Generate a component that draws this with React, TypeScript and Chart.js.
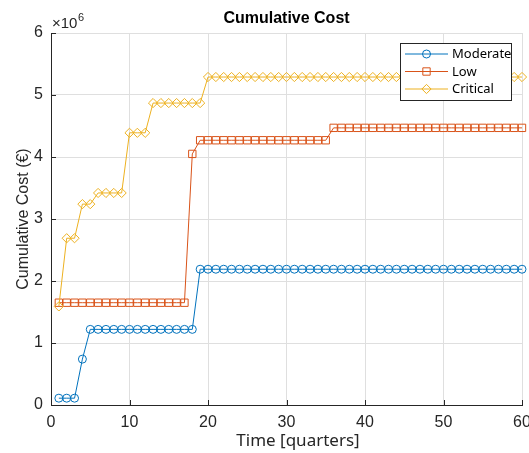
import React, { useEffect, useRef } from "react";
import { Chart, registerables } from "chart.js";

Chart.register(...registerables);

// ---- data ----
const quarters = [
  1, 2, 3, 4, 5, 6, 7, 8, 9, 10, 11, 12, 13, 14, 15, 16, 17, 18, 19, 20,
  21, 22, 23, 24, 25, 26, 27, 28, 29, 30, 31, 32, 33, 34, 35, 36, 37, 38, 39, 40,
  41, 42, 43, 44, 45, 46, 47, 48, 49, 50, 51, 52, 53, 54, 55, 56, 57, 58, 59, 60,
];

const moderate = [
  110000, 110000, 110000, 740000, 1220000, 1220000, 1220000, 1220000, 1220000, 1220000,
  1220000, 1220000, 1220000, 1220000, 1220000, 1220000, 1220000, 1220000, 2190000, 2190000,
  2190000, 2190000, 2190000, 2190000, 2190000, 2190000, 2190000, 2190000, 2190000, 2190000,
  2190000, 2190000, 2190000, 2190000, 2190000, 2190000, 2190000, 2190000, 2190000, 2190000,
  2190000, 2190000, 2190000, 2190000, 2190000, 2190000, 2190000, 2190000, 2190000, 2190000,
  2190000, 2190000, 2190000, 2190000, 2190000, 2190000, 2190000, 2190000, 2190000, 2190000,
];

const low = [
  1650000, 1650000, 1650000, 1650000, 1650000, 1650000, 1650000, 1650000, 1650000, 1650000,
  1650000, 1650000, 1650000, 1650000, 1650000, 1650000, 1650000, 4050000, 4270000, 4270000,
  4270000, 4270000, 4270000, 4270000, 4270000, 4270000, 4270000, 4270000, 4270000, 4270000,
  4270000, 4270000, 4270000, 4270000, 4270000, 4470000, 4470000, 4470000, 4470000, 4470000,
  4470000, 4470000, 4470000, 4470000, 4470000, 4470000, 4470000, 4470000, 4470000, 4470000,
  4470000, 4470000, 4470000, 4470000, 4470000, 4470000, 4470000, 4470000, 4470000, 4470000,
];

const critical = [
  1590000, 2690000, 2690000, 3240000, 3240000, 3420000, 3420000, 3420000, 3420000, 4390000,
  4390000, 4390000, 4870000, 4870000, 4870000, 4870000, 4870000, 4870000, 4870000, 5290000,
  5290000, 5290000, 5290000, 5290000, 5290000, 5290000, 5290000, 5290000, 5290000, 5290000,
  5290000, 5290000, 5290000, 5290000, 5290000, 5290000, 5290000, 5290000, 5290000, 5290000,
  5290000, 5290000, 5290000, 5290000, 5290000, 5290000, 5290000, 5290000, 5290000, 5290000,
  5290000, 5290000, 5290000, 5290000, 5290000, 5290000, 5290000, 5290000, 5290000, 5290000,
];

const seriesNames = ["Moderate", "Low", "Critical"];
const xTicks = [0, 10, 20, 30, 40, 50, 60];
const yTicks = [0, 1, 2, 3, 4, 5, 6]; // in units of 10^6
const yExponent = 6;
const titleText = "Cumulative Cost";
const xLabel = "Time [quarters]";
const yLabel = "Cumulative Cost (€)";

// ---- styles ----
const colors = ["#0072BD", "#D95319", "#EDB120"];
const pointStyles = ["circle", "rect", "rectRot"];
const pointRadii = [4, 5.2, 4.6];
const axisColor = "#262626";
const gridColor = "#dfdfdf";
const sans = "'Liberation Sans', Arial, Helvetica, sans-serif";
const noto = "'Noto Sans', 'Open Sans', sans-serif";

function drawMarker(ctx: CanvasRenderingContext2D, style: string, x: number, y: number, r: number) {
  ctx.beginPath();
  if (style === "circle") {
    ctx.arc(x, y, r, 0, Math.PI * 2);
  } else if (style === "rect") {
    const s = r * Math.SQRT1_2;
    ctx.rect(x - s, y - s, 2 * s, 2 * s);
  } else {
    ctx.moveTo(x - r, y);
    ctx.lineTo(x, y - r);
    ctx.lineTo(x + r, y);
    ctx.lineTo(x, y + r);
    ctx.closePath();
  }
  ctx.stroke();
}

const overlayPlugin = {
  id: "matlabOverlay",
  beforeDatasetsDraw(chart: any) {
    const { ctx, chartArea, scales } = chart;
    ctx.save();
    ctx.strokeStyle = axisColor;
    ctx.lineWidth = 1;
    const tl = 5;
    for (const v of xTicks) {
      const px = Math.round(scales.x.getPixelForValue(v)) + 0.5;
      ctx.beginPath();
      ctx.moveTo(px, chartArea.bottom);
      ctx.lineTo(px, chartArea.bottom - tl);
      ctx.stroke();
    }
    for (const v of yTicks) {
      const py = Math.round(scales.y.getPixelForValue(v * Math.pow(10, yExponent))) + 0.5;
      ctx.beginPath();
      ctx.moveTo(chartArea.left, py);
      ctx.lineTo(chartArea.left + tl, py);
      ctx.stroke();
    }
    ctx.restore();
  },
  afterDraw(chart: any) {
    const { ctx, chartArea } = chart;
    ctx.save();
    // exponent label
    ctx.fillStyle = axisColor;
    ctx.textBaseline = "alphabetic";
    ctx.textAlign = "left";
    ctx.font = `15px ${sans}`;
    const base = "×10";
    const ex = chartArea.left + 1;
    ctx.fillText(base, ex, 28);
    const w = ctx.measureText(base).width;
    ctx.font = `11px ${sans}`;
    ctx.fillText(String(yExponent), ex + w + 0.5, 21);

    // x label
    ctx.font = `17px ${noto}`;
    ctx.textAlign = "center";
    ctx.textBaseline = "middle";
    ctx.fillStyle = axisColor;
    ctx.fillText(xLabel, 298, 441);

    // legend
    const bx = 400.5, by = 43.5, bw = 111, bh = 57;
    ctx.fillStyle = "#ffffff";
    ctx.fillRect(bx, by, bw, bh);
    ctx.strokeStyle = axisColor;
    ctx.lineWidth = 1;
    ctx.strokeRect(bx, by, bw, bh);
    const rows = [54, 71.5, 89];
    chart.data.datasets.forEach((ds: any, i: number) => {
      const y = rows[i];
      ctx.strokeStyle = ds.borderColor;
      ctx.lineWidth = 1;
      ctx.beginPath();
      ctx.moveTo(405, y);
      ctx.lineTo(448, y);
      ctx.stroke();
      drawMarker(ctx, ds.pointStyle, 426.5, y, ds.pointRadius);
      ctx.fillStyle = "#000000";
      ctx.font = `13px ${noto}`;
      ctx.textAlign = "left";
      ctx.textBaseline = "middle";
      ctx.fillText(ds.label, 452, y + 0.5);
    });
    ctx.restore();
  },
};

export default function App() {
  const ref = useRef<HTMLCanvasElement>(null);
  useEffect(() => {
    if (!ref.current) return;
    const series = [moderate, low, critical];
    const datasets = series.map((vals, i) => ({
      label: seriesNames[i],
      data: quarters.map((q, j) => ({ x: q, y: vals[j] })),
      borderColor: colors[i],
      backgroundColor: "rgba(0,0,0,0)",
      pointBackgroundColor: "rgba(0,0,0,0)",
      pointBorderColor: colors[i],
      pointStyle: pointStyles[i],
      pointRadius: pointRadii[i],
      pointBorderWidth: 1,
      borderWidth: 1,
      tension: 0,
      fill: false,
      clip: false as any,
      order: 2 - i,
    }));
    const tickFont = { family: sans, size: 16 };
    const chart = new Chart(ref.current, {
      type: "line",
      data: { datasets },
      options: {
        responsive: false,
        animation: false,
        events: [],
        layout: { padding: { left: 0, right: 7, top: 0, bottom: 0 } },
        plugins: {
          legend: { display: false },
          tooltip: { enabled: false },
          title: {
            display: true,
            text: titleText,
            fullSize: false,
            color: "#000000",
            font: { family: sans, size: 16, weight: "bold" },
            padding: { top: 9.4, bottom: 4.4 },
          },
        },
        scales: {
          x: {
            type: "linear",
            min: 0,
            max: 60,
            afterBuildTicks: (s: any) => {
              s.ticks = xTicks.map((v) => ({ value: v }));
            },
            afterFit: (s: any) => {
              s.height = 48;
              s.paddingLeft = 0;
              s.paddingRight = 0;
            },
            grid: { color: gridColor, drawTicks: false },
            border: { color: axisColor, width: 1 },
            ticks: {
              padding: 8,
              color: axisColor,
              font: tickFont,
              maxRotation: 0,
              autoSkip: false,
              callback: (v: any) => String(v),
            },
          },
          y: {
            type: "linear",
            min: 0,
            max: 6 * Math.pow(10, yExponent),
            afterBuildTicks: (s: any) => {
              s.ticks = yTicks.map((v) => ({ value: v * Math.pow(10, yExponent) }));
            },
            afterFit: (s: any) => {
              s.width = 51;
              s.paddingTop = 0;
              s.paddingBottom = 0;
            },
            grid: { color: gridColor, drawTicks: false },
            border: { color: axisColor, width: 1 },
            ticks: {
              padding: 8,
              color: axisColor,
              font: tickFont,
              autoSkip: false,
              callback: (v: any) => String(Math.round(v / Math.pow(10, yExponent))),
            },
            title: {
              display: true,
              text: yLabel,
              color: axisColor,
              font: { family: sans, size: 16 },
              padding: { top: 13.5, bottom: 0 },
            },
          },
        },
      } as any,
      plugins: [overlayPlugin],
    });
    return () => chart.destroy();
  }, []);
  return (
    <div style={{ position: "absolute", left: 0, top: 0, width: 529, height: 453, background: "#fff" }}>
      <canvas ref={ref} width={529} height={453} style={{ display: "block" }} />
    </div>
  );
}
